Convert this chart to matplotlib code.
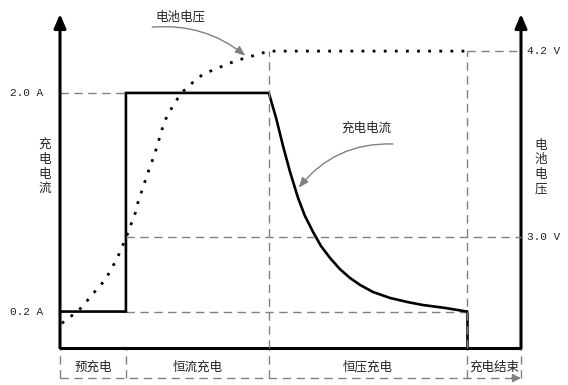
import matplotlib
matplotlib.use("Agg")
import matplotlib.pyplot as plt
import matplotlib.transforms as mtransforms

plt.rcParams['font.family'] = ['Noto Sans CJK SC', 'DejaVu Sans']

# phase boundaries (time, arbitrary units) and names
phase_edges = [0, 14.3, 45.3, 88.3, 100]
phase_names = ["预充电", "恒流充电", "恒压充电", "充电结束"]

# charge current (A)
t_cur = [0, 14.3, 14.3, 45.3, 46.9, 48.4, 49.9, 51.6, 53.1, 54.9, 56.6,
         58.6, 60.7, 62.9, 65.1, 67.9, 71.6, 75.3, 78.7, 83.5, 88.3]
i_cur = [0.2, 0.2, 2.0, 2.0, 1.79, 1.56, 1.35, 1.14, 0.99, 0.855, 0.74,
         0.64, 0.55, 0.477, 0.419, 0.361, 0.312, 0.279, 0.254, 0.23, 0.2]

# battery voltage (V)
t_volt = [0.4, 2.6, 4.6, 6.3, 8.0, 9.8, 11.1, 12.4, 13.4, 14.3, 15.4, 16.3,
          16.9, 17.8, 18.9, 20.0, 20.8, 21.5, 22.3, 23.2, 25.2, 26.7, 28.9,
          31.0, 33.4, 35.8, 38.4, 40.8, 43.0, 45.3, 88.3]
v_volt = [2.44, 2.49, 2.54, 2.60, 2.66, 2.72, 2.79, 2.86, 2.93, 2.99, 3.08,
          3.15, 3.22, 3.30, 3.40, 3.49, 3.56, 3.63, 3.71, 3.78, 3.88, 3.94,
          4.00, 4.05, 4.08, 4.11, 4.14, 4.16, 4.18, 4.2, 4.2]

cur_ticks = [0.2, 2.0]
cur_labels = ["0.2 A", "2.0 A"]
volt_ticks = [3.0, 4.2]
volt_labels = ["3.0 V", "4.2 V"]

W, H = 568, 385
fig = plt.figure(figsize=(W / 100, H / 100), dpi=100)
ax = fig.add_axes([60 / W, 1 - 348 / H, 461 / W, 334 / H])
ax.set_xlim(0, 100)
ax.set_ylim(-0.1, 2.65)
ax.axis('off')
ax2 = ax.twinx()
ax2.set_ylim(2.28, 4.44)
ax2.axis('off')

grey = '#808080'
dash = dict(color=grey, lw=1.0, linestyle=(0, (6, 4)), clip_on=False)
bt = mtransforms.blended_transform_factory(ax.transData, ax.transAxes)

# guide lines
ax.hlines(cur_ticks[1], 0, phase_edges[1], **dash)
ax.hlines(cur_ticks[0], phase_edges[1], phase_edges[3], **dash)
ax2.hlines(volt_ticks[0], phase_edges[1], 100, **dash)
ax2.hlines(volt_ticks[1], phase_edges[3], 100, **dash)
ax2.vlines(phase_edges[2:4], ax2.get_ylim()[0], volt_ticks[1], **dash)
ax.vlines(phase_edges, -0.09, 0, transform=bt, **dash)
ax.plot([0, 0.985], [-0.09, -0.09], transform=ax.transAxes, **dash)
ax.annotate("", xy=(1, -0.09), xytext=(0.98, -0.09), xycoords='axes fraction',
            arrowprops=dict(arrowstyle='-|>,head_length=0.5,head_width=0.25',
                            color=grey, lw=1, shrinkA=0, shrinkB=0))

# curves
ax.plot(t_cur, i_cur, color='black', lw=1.9, solid_joinstyle='miter', zorder=5)
ax.vlines(t_cur[-1], ax.get_ylim()[0], i_cur[-1], color='black', lw=1.9, zorder=5)
ax2.plot(t_volt, v_volt, color='black', lw=2.0, linestyle=(0, (1, 3)), zorder=4)

# axis lines with arrows
arrow = dict(arrowstyle='-|>,head_length=0.7,head_width=0.3', color='black',
             lw=2.2, shrinkA=0, shrinkB=0, mutation_scale=12)
ax.annotate("", xy=(0, 1), xytext=(0, 0), xycoords='axes fraction', arrowprops=arrow)
ax.annotate("", xy=(1, 1), xytext=(1, 0), xycoords='axes fraction', arrowprops=arrow)
ax.plot([0, 1], [0, 0], transform=ax.transAxes, color='black', lw=2.2,
        solid_capstyle='butt', clip_on=False, zorder=6)

# tick labels
bt_y = mtransforms.blended_transform_factory(ax.transAxes, ax.transData)
bt_y2 = mtransforms.blended_transform_factory(ax2.transAxes, ax2.transData)
for v, s in zip(cur_ticks, cur_labels):
    ax.text(-0.036, v, s, transform=bt_y, ha='right', va='center',
            family='Liberation Mono', fontsize=8, color='#222')
for v, s in zip(volt_ticks, volt_labels):
    ax2.text(1.013, v, s, transform=bt_y2, ha='left', va='center',
             family='Liberation Mono', fontsize=8, color='#222')

# axis titles
ax.text(-0.033, 0.542, "\n".join("充电电流"), transform=ax.transAxes,
        ha='center', va='center', fontsize=9, linespacing=1.15, color='#222')
ax.text(1.043, 0.542, "\n".join("电池电压"), transform=ax.transAxes,
        ha='center', va='center', fontsize=9, linespacing=1.15, color='#222')

# phase labels
for a, b, name in zip(phase_edges[:-1], phase_edges[1:], phase_names):
    ax.text((a + b) / 2, -0.057, name, transform=bt, ha='center', va='center',
            fontsize=9, color='#222')

# callouts
callout = dict(arrowstyle='-|>,head_length=0.5,head_width=0.2', color=grey,
               lw=1.0, shrinkA=0, shrinkB=0, mutation_scale=12)
ax2.text(26.2, 4.42, "电池电压", ha='center', va='center', fontsize=9, color='#222')
ax2.annotate("", xy=(40.2, 4.17), xytext=(20, 4.355),
             arrowprops=dict(connectionstyle='arc3,rad=-0.2', **callout))
ax.text(66.4, 1.71, "充电电流", ha='center', va='center', fontsize=9, color='#222')
ax.annotate("", xy=(51.8, 1.22), xytext=(72.2, 1.58),
            arrowprops=dict(connectionstyle='arc3,rad=0.25', **callout))

fig.savefig("out.png", dpi=100, facecolor='white')
